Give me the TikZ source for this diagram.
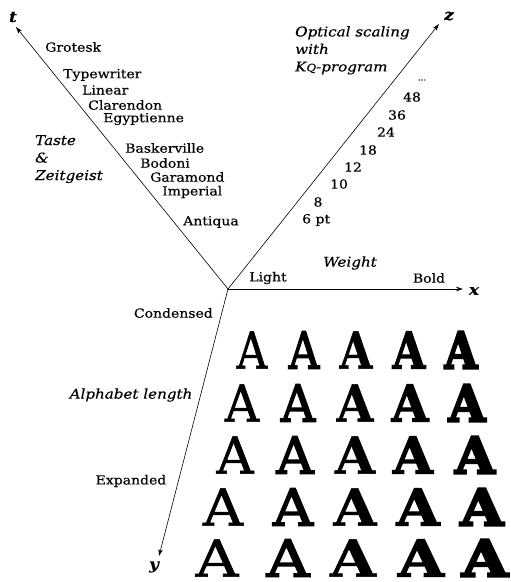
\documentclass[tikz,border=0pt]{standalone}
\usepackage{fontspec}
\usepackage{graphicx}
\setmainfont{DejaVu Serif}[FakeStretch=1.12,FakeBold=0.4]
\newfontfamily\Aone{DejaVu Serif}[FakeBold=1.2]
\newfontfamily\Atwo{DejaVu Serif}[FakeBold=2.8]
\newfontfamily\Athree{DejaVu Serif}[UprightFont={* Bold},FakeBold=0.8]
\newfontfamily\Afour{DejaVu Serif}[UprightFont={* Bold},FakeBold=2.5]
\newfontfamily\Afive{DejaVu Serif}[UprightFont={* Bold},FakeBold=4.5]
\usetikzlibrary{arrows.meta}
\tikzset{
  axis/.style={line width=0.6pt,-{Stealth[length=7pt,width=4.5pt]}},
  lbl/.style={inner sep=0pt,font=\fontsize{12.5}{14}\selectfont},
  lblw/.style={lbl,anchor=west},
  ital/.style={inner sep=0pt,font=\fontsize{13.5}{17.5}\selectfont\itshape,align=left},
  axl/.style={inner sep=0pt,font=\fontsize{15}{15}\selectfont\bfseries\itshape},
  bigA/.style={inner sep=0pt,font=\fontsize{51}{51}\selectfont}
}
\begin{document}
\begin{tikzpicture}[x=1pt,y=-1pt]
\useasboundingbox (0,0) rectangle (511,582);
\coordinate (O) at (228,289);
\coordinate (tt) at (16,27);
\coordinate (zt) at (439,24);
\coordinate (xt) at (463,289);
\coordinate (yt) at (159,556);
\draw[axis] (O) -- (tt);
\draw[axis] (O) -- (zt);
\draw[axis] (O) -- (xt);
\draw[axis] (O) -- (yt);
\node[axl] (tl) at (13,17) {t};
\node[axl] (zl) at (449,16) {z};
\node[axl] (xl) at (474,291) {x};
\node[axl] (yl) at (154,567) {y};
% t axis
\node[lblw] (n1) at (45,47) {Grotesk};
\node[lblw] (n2) at (63,75) {Typewriter};
\node[lblw] (n3) at (82,90) {Linear};
\node[lblw] (n4) at (88,105) {Clarendon};
\node[lblw] (n5) at (103,119) {Egyptienne};
\node[lblw] (n6) at (125,148) {Baskerville};
\node[lblw] (n7) at (140,163) {Bodoni};
\node[lblw] (n8) at (150,177) {Garamond};
\node[lblw] (n9) at (162,192) {Imperial};
\node[lblw] (n10) at (183,222) {Antiqua};
\node[ital,anchor=north west] (taste) at (35,135) {Taste\\\&\\Zeitgeist};
% z axis
\node[ital,anchor=north west] (opt) at (295,26) {Optical scaling\\with\\K{\fontsize{10.5}{10}\selectfont Q}-program};
\node[lbl,font=\fontsize{8}{8}\selectfont] (dots) at (422,80) {...};
\node[lbl] (z48) at (412,97) {48};
\node[lbl] (z36) at (397,115) {36};
\node[lbl] (z24) at (386,132) {24};
\node[lbl] (z18) at (368,150) {18};
\node[lbl] (z12) at (353,167) {12};
\node[lbl] (z10) at (339,184) {10};
\node[lbl] (z8) at (318,202) {8};
\node[lblw] (z6) at (302,220) {6 pt};
% x axis
\node[ital] (weight) at (350,263) {Weight};
\node[lbl] (light) at (268,278) {Light};
\node[lbl] (bold) at (429,278) {Bold};
% y axis
\node[lbl,anchor=east] (cond) at (213,313) {Condensed};
\node[ital] (alpha) at (131,395) {Alphabet length};
\node[lbl] (exp) at (131,481) {Expanded};
% A grid
\foreach \r/\yy/\s/\xa/\xb/\xc/\xd/\xe in {1/350/0.83/252/304/356/409/461, 2/403/0.93/242/298/355/410/467, 3/455/1.01/235/295/355/413/475, 4/507/1.09/223/293/355/418/482, 5/558/1.16/217/288/353/421/485}{
  \node[bigA] (a\r1) at (\xa,\yy) {\scalebox{\s}[1]{\Aone A}};
  \node[bigA] (a\r2) at (\xb,\yy) {\scalebox{\s}[1]{\Atwo A}};
  \node[bigA] (a\r3) at (\xc,\yy) {\scalebox{\s}[1]{\Athree A}};
  \node[bigA] (a\r4) at (\xd,\yy) {\scalebox{\s}[1]{\Afour A}};
  \node[bigA] (a\r5) at (\xe,\yy) {\scalebox{\s}[1]{\Afive A}};
}
\end{tikzpicture}
\end{document}
